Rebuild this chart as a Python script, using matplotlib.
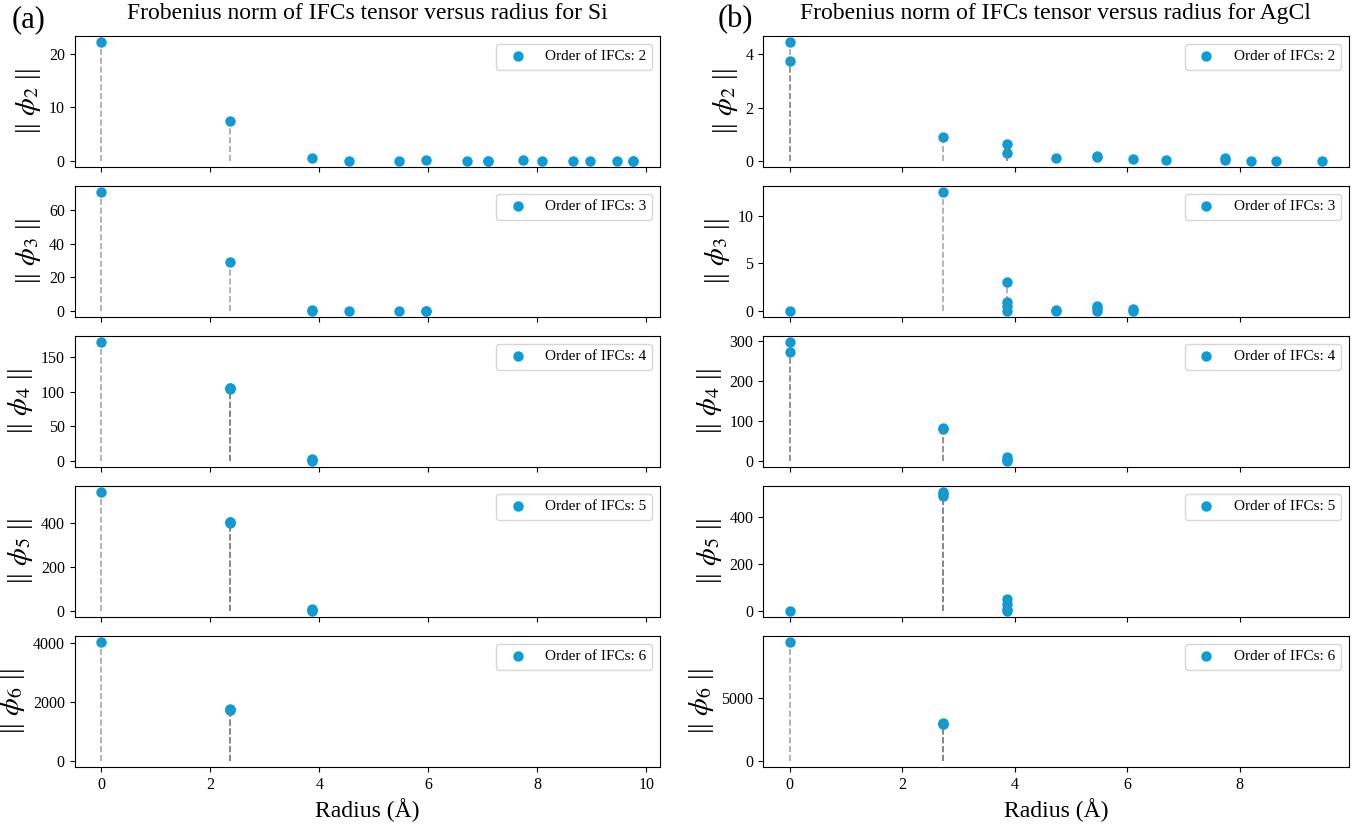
import matplotlib
matplotlib.use("Agg")
import matplotlib.pyplot as plt

plt.rcParams['font.family'] = ['Liberation Serif', 'DejaVu Serif']
plt.rcParams['mathtext.fontset'] = 'stix'

# ---------------- Si data ----------------
si_r2 = [0.0, 2.37, 3.86, 4.54, 5.46, 5.96, 6.70, 7.10, 7.10, 7.73, 8.09, 8.65, 8.96, 9.46, 9.76, 9.76]
si_v2 = [22.2, 7.45, 0.56, 0.08, 0.02, 0.20, 0.03, 0.02, 0.05, 0.12, 0.04, 0.02, 0.04, 0.02, 0.03, 0.06]

si_r3 = [0.0, 2.37, 3.86, 3.86, 4.54, 5.46, 5.96, 5.96]
si_v3 = [71.0, 29.4, 0.2, 0.9, 0.3, 0.1, 0.3, 0.1]

si_r4 = [0.0, 2.37, 2.37, 2.37, 3.86, 3.86, 3.86]
si_v4 = [171.5, 103.5, 104.5, 105.5, 0.5, 1.5, 3.5]

si_r5 = [0.0, 2.37, 2.37, 2.37, 3.86, 3.86, 3.86]
si_v5 = [540.0, 398.0, 402.0, 405.0, 2.0, 5.0, 9.0]

si_r6 = [0.0, 2.37, 2.37, 2.37]
si_v6 = [4048.0, 1735.0, 1750.0, 1765.0]

# ---------------- AgCl data ----------------
ag_r2 = [0.0, 0.0, 2.72, 3.86, 3.86, 4.73, 5.47, 5.47, 6.11, 6.69, 7.73, 7.73, 8.20, 8.65, 9.46]
ag_v2 = [4.47, 3.77, 0.92, 0.64, 0.29, 0.10, 0.19, 0.14, 0.06, 0.03, 0.11, 0.05, 0.01, 0.0, 0.01]

ag_r3 = [0.0, 2.72, 3.86, 3.86, 3.86, 3.86, 4.73, 4.73, 5.47, 5.47, 5.47, 6.11, 6.11]
ag_v3 = [0.0, 12.5, 3.0, 1.0, 0.55, 0.05, 0.15, 0.05, 0.55, 0.35, 0.05, 0.18, 0.05]

ag_r4 = [0.0, 0.0, 2.72, 2.72, 3.86, 3.86, 3.86]
ag_v4 = [296.6, 271.5, 80.5, 83.0, 9.0, 3.0, 0.5]

ag_r5 = [0.0, 2.72, 2.72, 2.72, 3.86, 3.86, 3.86, 3.86]
ag_v5 = [2.0, 507.0, 500.0, 490.0, 51.0, 30.0, 9.0, 2.0]

ag_r6 = [0.0, 2.72, 2.72, 2.72]
ag_v6 = [9440.0, 2900.0, 2950.0, 3000.0]

orders = [2, 3, 4, 5, 6]
si_data = [(si_r2, si_v2), (si_r3, si_v3), (si_r4, si_v4), (si_r5, si_v5), (si_r6, si_v6)]
ag_data = [(ag_r2, ag_v2), (ag_r3, ag_v3), (ag_r4, ag_v4), (ag_r5, ag_v5), (ag_r6, ag_v6)]

titles = ["Frobenius norm of IFCs tensor versus radius for Si",
          "Frobenius norm of IFCs tensor versus radius for AgCl"]
panel_labels = ["(a)", "(b)"]
panel_label_x = [29, 735]

dot_color = '#0a9bd9'

W, H = 1366, 825
fig = plt.figure(figsize=(W / 100, H / 100), dpi=100)

col_left = [74.5, 763.0]
col_width = 585.5
row_tops = [36, 186, 336, 486, 636]
row_h = 131

for c, data in enumerate([si_data, ag_data]):
    axes = []
    for r, (xs, ys) in enumerate(data):
        top = row_tops[r]
        rect = [col_left[c] / W, 1 - (top + row_h) / H, col_width / W, row_h / H]
        ax = fig.add_axes(rect, sharex=axes[0] if axes else None)
        axes.append(ax)
        ax.scatter(xs, ys, s=42, color=dot_color, label=f"Order of IFCs: {orders[r]}")
        ax.vlines(xs, 0, ys, colors='gray', linestyles='dashed', linewidth=1.2, alpha=0.7)
        ax.set_ylabel(r'|| $\phi_{%d}$ ||' % orders[r], fontsize=20.5)
        ax.tick_params(labelsize=11.5)
        ax.legend(loc='upper right', fontsize=11)
        if r < 4:
            ax.tick_params(labelbottom=False)
        else:
            ax.set_xlabel('Radius (Å)', fontsize=17)
    axes[0].set_title(titles[c], fontsize=17, pad=12)
    fig.text(panel_label_x[c] / W, 1 - 20 / H, panel_labels[c], fontsize=22,
             ha='center', va='center')

fig.savefig('out.png', dpi=100)
